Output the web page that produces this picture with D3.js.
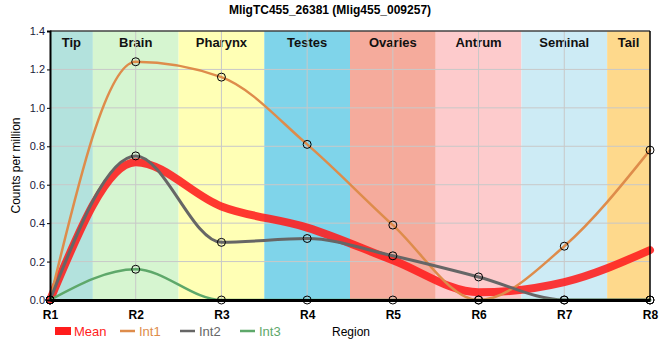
<!DOCTYPE html>
<html>
<head>
<meta charset="utf-8">
<script src="https://cdn.jsdelivr.net/npm/d3@7"></script>
<style>
  body { margin: 0; background: #fff; }
  text { font-family: "Liberation Sans", Arial, sans-serif; }
</style>
</head>
<body>
<div id="chart"></div>
<script>
// data
var regions = ["R1", "R2", "R3", "R4", "R5", "R6", "R7", "R8"];
var bandNames = ["Tip", "Brain", "Pharynx", "Testes", "Ovaries", "Antrum", "Seminal", "Tail"];
var bandColors = ["#b3e2dd", "#d6f5d0", "#ffffb5", "#7fd4ea", "#f5ab9c", "#fdcbcc", "#cdebf5", "#fed98c"];
var int1 = [0, 1.24, 1.16, 0.81, 0.39, 0, 0.28, 0.78];
var int2 = [0, 0.75, 0.30, 0.32, 0.23, 0.12, 0, 0];
var int3 = [0, 0.16, 0, 0, 0, 0, 0, 0];
var meanVals = [0, 0.717, 0.487, 0.377, 0.207, 0.04, 0.093, 0.26];
var yTicks = [0, 0.2, 0.4, 0.6, 0.8, 1.0, 1.2, 1.4];

var width = 660, height = 360;
var margin = {top: 31, left: 50, bottom: 60, right: 10};
var w = width - margin.left - margin.right;
var h = height - margin.top - margin.bottom;

var svg = d3.select("#chart").append("svg")
    .attr("width", width)
    .attr("height", height);

var g = svg.append("g")
    .attr("transform", "translate(" + margin.left + "," + margin.top + ")");

var x = d3.scalePoint().domain(regions).range([0, w]);
var y = d3.scaleLinear().domain([0, 1.4]).range([h, 0]);
var step = x.step();

function bandLeft(d){ return Math.max(0, x(d) - step / 2); }
function bandRight(d){ return Math.min(w, x(d) + step / 2); }

// background bands, one per region
g.selectAll("rect.band")
    .data(regions)
    .enter()
    .append("rect")
    .attr("class", "band")
    .attr("x", bandLeft)
    .attr("y", 0)
    .attr("width", function(d){ return bandRight(d) - bandLeft(d); })
    .attr("height", h)
    .attr("fill", function(d, i){ return bandColors[i]; });

g.selectAll("text.band")
    .data(regions)
    .enter()
    .append("text")
    .attr("class", "band")
    .attr("x", function(d){ return (bandLeft(d) + bandRight(d)) / 2; })
    .attr("y", 16)
    .attr("text-anchor", "middle")
    .style("font-size", "13px")
    .style("font-weight", "bold")
    .attr("fill", "#111")
    .text(function(d, i){ return bandNames[i]; });

// grid
g.selectAll("line.hgrid")
    .data(yTicks.slice(1))
    .enter()
    .append("line")
    .attr("x1", 0).attr("x2", w)
    .attr("y1", function(d){ return y(d); })
    .attr("y2", function(d){ return y(d); })
    .attr("stroke", "#c8c8c8");

g.selectAll("line.vgrid")
    .data(regions.slice(1, -1))
    .enter()
    .append("line")
    .attr("y1", 0).attr("y2", h)
    .attr("x1", function(d){ return x(d); })
    .attr("x2", function(d){ return x(d); })
    .attr("stroke", "#c8c8c8");

// series
var series = [
    {name: "Mean", values: meanVals, color: "#ff1c1c", width: 8, opacity: 0.88, dots: false},
    {name: "Int1", values: int1, color: "#de8c4b", width: 2.5, opacity: 1, dots: true},
    {name: "Int2", values: int2, color: "#666666", width: 3, opacity: 1, dots: true},
    {name: "Int3", values: int3, color: "#5ea86a", width: 2.5, opacity: 1, dots: true}
];

var line = d3.line()
    .x(function(d, i){ return x(regions[i]); })
    .y(function(d){ return y(d); })
    .curve(d3.curveMonotoneX);

g.selectAll("path.series")
    .data(series)
    .enter()
    .append("path")
    .attr("class", "series")
    .attr("d", function(s){ return line(s.values); })
    .attr("fill", "none")
    .attr("stroke", function(s){ return s.color; })
    .attr("stroke-width", function(s){ return s.width; })
    .attr("stroke-opacity", function(s){ return s.opacity; })
    .attr("stroke-linecap", "round");

// axes
g.append("g")
    .attr("transform", "translate(0," + h + ")")
    .call(d3.axisBottom(x).tickSize(0).tickPadding(10))
    .call(function(a){
        a.select(".domain").attr("stroke", "#000").attr("stroke-width", 3);
        a.selectAll("text").style("font-size", "12px").style("font-weight", "bold")
            .attr("fill", "#000").style("font-family", "'Liberation Sans', Arial, sans-serif");
    });

g.append("g")
    .call(d3.axisLeft(y).tickValues(yTicks).tickFormat(d3.format(".1f")).tickSize(3).tickPadding(2))
    .call(function(a){
        a.select(".domain").attr("stroke", "#000").attr("stroke-width", 2);
        a.selectAll("text").style("font-size", "11px")
            .attr("fill", "#1a1a3a").style("font-family", "'Liberation Sans', Arial, sans-serif");
    });

// frame on top and right
g.append("line").attr("x1", 0).attr("x2", w).attr("y1", 0).attr("y2", 0).attr("stroke", "#000");
g.append("line").attr("x1", w).attr("x2", w).attr("y1", 0).attr("y2", h).attr("stroke", "#000").attr("stroke-width", 1.5);

// data points
series.filter(function(s){ return s.dots; }).forEach(function(s){
    g.selectAll(null)
        .data(s.values)
        .enter()
        .append("circle")
        .attr("cx", function(d, i){ return x(regions[i]); })
        .attr("cy", function(d){ return y(d); })
        .attr("r", 4)
        .attr("fill", "none")
        .attr("stroke", "#000")
        .attr("stroke-width", 1);
});

// titles
svg.append("text")
    .attr("x", 330).attr("y", 14)
    .attr("text-anchor", "middle")
    .style("font-size", "12px").style("font-weight", "bold")
    .text("MligTC455_26381 (Mlig455_009257)");

svg.append("text")
    .attr("transform", "translate(20," + (margin.top + h / 2) + ") rotate(-90)")
    .attr("text-anchor", "middle")
    .style("font-size", "12px")
    .text("Counts per million");

svg.append("text")
    .attr("x", 332).attr("y", 336)
    .style("font-size", "12px")
    .text("Region");

// legend
var legend = svg.selectAll("g.legend")
    .data(series)
    .enter()
    .append("g")
    .attr("class", "legend")
    .attr("transform", function(d, i){ return "translate(" + (i == 0 ? 55 : 60 + i * 60) + ",331)"; });

legend.append("rect")
    .attr("x", 0)
    .attr("y", function(d){ return d.name == "Mean" ? -4 : -1.25; })
    .attr("width", function(d){ return d.name == "Mean" ? 16 : 15; })
    .attr("height", function(d){ return d.name == "Mean" ? 8 : 2.5; })
    .attr("fill", function(d){ return d.color; });

legend.append("text")
    .attr("x", 19)
    .attr("y", 4.5)
    .style("font-size", "13px")
    .attr("fill", function(d){ return d.color; })
    .text(function(d){ return d.name; });
</script>
</body>
</html>
